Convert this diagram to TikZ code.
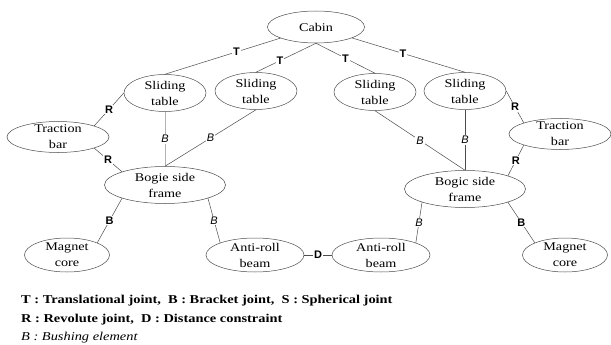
\documentclass[tikz,border=0pt]{standalone}
\usepackage{fontspec}
\setmainfont{Liberation Serif}[FakeStretch=1.2]
\setsansfont{Liberation Sans}
\usetikzlibrary{shapes.geometric}
\tikzset{
  part/.style={ellipse, draw=black!70, line width=0.5pt, align=center, inner xsep=0pt, inner ysep=-6pt, font=\rmfamily\fontsize{11.8}{16}\selectfont},
  slidebox/.style={part, minimum width=82pt, minimum height=37pt},
  barbox/.style={part, minimum width=102pt, minimum height=31pt},
  framebox/.style={part, minimum width=121pt, minimum height=37pt},
  corebox/.style={part, minimum width=85pt, minimum height=34pt},
  beambox/.style={part, minimum width=98pt, minimum height=34pt},
  link/.style={draw=black!70, line width=0.5pt},
  joint/.style={fill=white, inner sep=1pt, font=\sffamily\bfseries\fontsize{11}{13}\selectfont},
  bush/.style={fill=white, inner sep=1pt, font=\sffamily\itshape\fontsize{11}{13}\selectfont},
  key/.style={anchor=base west, inner sep=0pt, font=\rmfamily\bfseries\fontsize{12}{15}\selectfont}
}

\begin{document}
\begin{tikzpicture}[x=1pt, y=-1pt]
\useasboundingbox (0,0) rectangle (611,345);

\node[part, minimum width=97pt, minimum height=32pt] (cab) at (316,27) {Cabin};

\node[slidebox] (st1) at (165,93) {Sliding\\table};
\node[slidebox] (st2) at (256,91) {Sliding\\table};
\node[slidebox] (st3) at (375,92) {Sliding\\table};
\node[slidebox] (st4) at (465,91) {Sliding\\table};

\node[barbox] (tb1) at (58,137) {Traction\\bar};
\node[barbox] (tb2) at (560,134) {Traction\\bar};

\node[framebox] (bsf1) at (165,185) {Bogie side\\frame};
\node[framebox] (bsf2) at (465,189) {Bogic side\\frame};

\node[corebox] (mc1) at (67,255) {Magnet\\core};
\node[beambox] (arb1) at (255,255) {Anti-roll\\beam};
\node[beambox] (arb2) at (381,255) {Anti-roll\\beam};
\node[corebox] (mc2) at (565,255) {Magnet\\core};

\draw[link] (cab) -- node[joint, pos=0.38] {T} (st1.north);
\draw[link] (cab.south) -- node[joint, pos=0.6] {T} (st2.north);
\draw[link] (cab.south) -- node[joint, pos=0.5] {T} (st3.north);
\draw[link] (cab) -- node[joint, pos=0.45] {T} (st4.north);

\draw[link] (st1.west) -- node[joint] {R} (tb1.north east);
\draw[link] (tb1.south east) -- node[joint] {R} (bsf1.north west);
\draw[link] (st4.east) -- node[joint] {R} (tb2.north west);
\draw[link] (tb2.south west) -- node[joint] {R} (bsf2.north east);

\draw[link, draw=black!30] (st1.south) -- node[bush] {B} (bsf1.north);
\draw[link] (st2.south) -- node[bush] {B} (bsf1.north);
\draw[link] (st3.south) -- node[bush] {B} (bsf2.north);
\draw[link] (st4.south) -- node[bush] {B} (bsf2.north);

\draw[link] (bsf1.south west) -- node[joint] {B} (mc1.north east);
\draw[link] (bsf1.south east) -- node[bush] {B} (arb1.north west);
\draw[link] (bsf2.south west) -- node[bush] {B} (arb2.north east);
\draw[link] (bsf2.south east) -- node[joint] {B} (mc2.north west);
\draw[link] (arb1.east) -- node[joint] {D} (arb2.west);

\node[key] (key1) at (21,303) {T : Translational joint,\ \ B : Bracket joint,\ \ S : Spherical joint};
\node[key] (key2) at (21,322) {R : Revolute joint,\ \ D : Distance constraint};
\node[key, font=\rmfamily\itshape\fontsize{12}{15}\selectfont] (key3) at (21,340) {B : Bushing element};

\end{tikzpicture}
\end{document}
